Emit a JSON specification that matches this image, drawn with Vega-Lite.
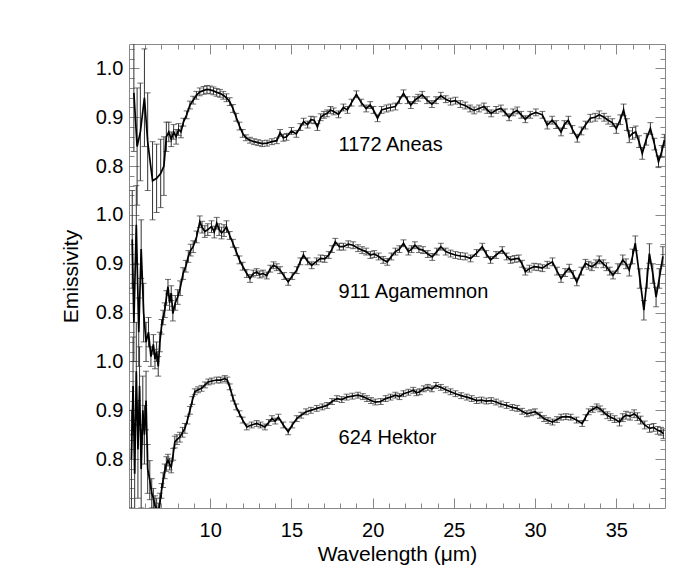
{
  "$schema": "https://vega.github.io/schema/vega-lite/v6.json",
  "autosize": "none",
  "width": 536,
  "height": 464,
  "padding": {"left": 129, "top": 44, "right": 29, "bottom": 72},
  "background": "white",
  "config": {
    "view": {"stroke": "#888", "strokeWidth": 1},
    "font": "Liberation Sans",
    "axis": {"grid": false, "domain": false, "tickColor": "#888", "labelColor": "black", "titleColor": "black", "labelFont": "Liberation Sans", "titleFont": "Liberation Sans", "labelFontSize": 20, "titleFontSize": 21, "titleFontWeight": "normal"}
  },
  "datasets": {
    "spec": [
      {"object":"1172 Aneas","wl":5.3,"e":0.95,"err":0.12},
      {"object":"1172 Aneas","wl":5.5,"e":0.84,"err":0.12},
      {"object":"1172 Aneas","wl":5.7,"e":0.87,"err":0.1},
      {"object":"1172 Aneas","wl":5.95,"e":0.94,"err":0.1},
      {"object":"1172 Aneas","wl":6.15,"e":0.85,"err":0.1},
      {"object":"1172 Aneas","wl":6.45,"e":0.77,"err":0.08},
      {"object":"1172 Aneas","wl":6.7,"e":0.775,"err":0.07},
      {"object":"1172 Aneas","wl":6.95,"e":0.785,"err":0.07},
      {"object":"1172 Aneas","wl":7.15,"e":0.8,"err":0.06},
      {"object":"1172 Aneas","wl":7.3,"e":0.86,"err":0.03},
      {"object":"1172 Aneas","wl":7.45,"e":0.87,"err":0.02},
      {"object":"1172 Aneas","wl":7.6,"e":0.855,"err":0.015},
      {"object":"1172 Aneas","wl":7.75,"e":0.87,"err":0.015},
      {"object":"1172 Aneas","wl":7.9,"e":0.86,"err":0.015},
      {"object":"1172 Aneas","wl":8.05,"e":0.875,"err":0.012},
      {"object":"1172 Aneas","wl":8.2,"e":0.87,"err":0.012},
      {"object":"1172 Aneas","wl":8.35,"e":0.89,"err":0.008},
      {"object":"1172 Aneas","wl":8.55,"e":0.905,"err":0.008},
      {"object":"1172 Aneas","wl":8.75,"e":0.925,"err":0.008},
      {"object":"1172 Aneas","wl":8.95,"e":0.935,"err":0.008},
      {"object":"1172 Aneas","wl":9.15,"e":0.945,"err":0.008},
      {"object":"1172 Aneas","wl":9.36,"e":0.952,"err":0.008},
      {"object":"1172 Aneas","wl":9.6,"e":0.955,"err":0.008},
      {"object":"1172 Aneas","wl":9.8,"e":0.957,"err":0.008},
      {"object":"1172 Aneas","wl":10.0,"e":0.956,"err":0.008},
      {"object":"1172 Aneas","wl":10.2,"e":0.954,"err":0.008},
      {"object":"1172 Aneas","wl":10.4,"e":0.951,"err":0.008},
      {"object":"1172 Aneas","wl":10.6,"e":0.949,"err":0.008},
      {"object":"1172 Aneas","wl":10.8,"e":0.945,"err":0.008},
      {"object":"1172 Aneas","wl":11.0,"e":0.94,"err":0.008},
      {"object":"1172 Aneas","wl":11.2,"e":0.932,"err":0.008},
      {"object":"1172 Aneas","wl":11.4,"e":0.918,"err":0.008},
      {"object":"1172 Aneas","wl":11.6,"e":0.9,"err":0.008},
      {"object":"1172 Aneas","wl":11.8,"e":0.882,"err":0.008},
      {"object":"1172 Aneas","wl":12.0,"e":0.867,"err":0.008},
      {"object":"1172 Aneas","wl":12.2,"e":0.858,"err":0.006},
      {"object":"1172 Aneas","wl":12.45,"e":0.853,"err":0.006},
      {"object":"1172 Aneas","wl":12.7,"e":0.85,"err":0.006},
      {"object":"1172 Aneas","wl":12.95,"e":0.848,"err":0.006},
      {"object":"1172 Aneas","wl":13.2,"e":0.846,"err":0.006},
      {"object":"1172 Aneas","wl":13.5,"e":0.847,"err":0.006},
      {"object":"1172 Aneas","wl":13.8,"e":0.85,"err":0.006},
      {"object":"1172 Aneas","wl":14.1,"e":0.852,"err":0.006},
      {"object":"1172 Aneas","wl":14.3,"e":0.868,"err":0.007},
      {"object":"1172 Aneas","wl":14.5,"e":0.858,"err":0.007},
      {"object":"1172 Aneas","wl":14.7,"e":0.86,"err":0.007},
      {"object":"1172 Aneas","wl":15.0,"e":0.872,"err":0.007},
      {"object":"1172 Aneas","wl":15.3,"e":0.866,"err":0.007},
      {"object":"1172 Aneas","wl":15.55,"e":0.88,"err":0.007},
      {"object":"1172 Aneas","wl":15.75,"e":0.891,"err":0.007},
      {"object":"1172 Aneas","wl":16.0,"e":0.885,"err":0.007},
      {"object":"1172 Aneas","wl":16.2,"e":0.895,"err":0.007},
      {"object":"1172 Aneas","wl":16.4,"e":0.894,"err":0.007},
      {"object":"1172 Aneas","wl":16.6,"e":0.88,"err":0.007},
      {"object":"1172 Aneas","wl":16.8,"e":0.9,"err":0.007},
      {"object":"1172 Aneas","wl":17.0,"e":0.905,"err":0.007},
      {"object":"1172 Aneas","wl":17.2,"e":0.908,"err":0.007},
      {"object":"1172 Aneas","wl":17.4,"e":0.915,"err":0.007},
      {"object":"1172 Aneas","wl":17.6,"e":0.912,"err":0.007},
      {"object":"1172 Aneas","wl":17.9,"e":0.906,"err":0.007},
      {"object":"1172 Aneas","wl":18.2,"e":0.92,"err":0.007},
      {"object":"1172 Aneas","wl":18.45,"e":0.915,"err":0.007},
      {"object":"1172 Aneas","wl":18.7,"e":0.93,"err":0.007},
      {"object":"1172 Aneas","wl":19.0,"e":0.947,"err":0.007},
      {"object":"1172 Aneas","wl":19.3,"e":0.93,"err":0.007},
      {"object":"1172 Aneas","wl":19.6,"e":0.918,"err":0.007},
      {"object":"1172 Aneas","wl":19.85,"e":0.925,"err":0.007},
      {"object":"1172 Aneas","wl":20.05,"e":0.915,"err":0.007},
      {"object":"1172 Aneas","wl":20.3,"e":0.898,"err":0.007},
      {"object":"1172 Aneas","wl":20.55,"e":0.915,"err":0.007},
      {"object":"1172 Aneas","wl":20.85,"e":0.918,"err":0.007},
      {"object":"1172 Aneas","wl":21.1,"e":0.92,"err":0.007},
      {"object":"1172 Aneas","wl":21.4,"e":0.922,"err":0.007},
      {"object":"1172 Aneas","wl":21.65,"e":0.935,"err":0.007},
      {"object":"1172 Aneas","wl":21.9,"e":0.949,"err":0.007},
      {"object":"1172 Aneas","wl":22.15,"e":0.935,"err":0.007},
      {"object":"1172 Aneas","wl":22.35,"e":0.925,"err":0.007},
      {"object":"1172 Aneas","wl":22.6,"e":0.935,"err":0.007},
      {"object":"1172 Aneas","wl":22.8,"e":0.94,"err":0.007},
      {"object":"1172 Aneas","wl":23.05,"e":0.946,"err":0.007},
      {"object":"1172 Aneas","wl":23.35,"e":0.935,"err":0.007},
      {"object":"1172 Aneas","wl":23.65,"e":0.927,"err":0.007},
      {"object":"1172 Aneas","wl":23.9,"e":0.935,"err":0.007},
      {"object":"1172 Aneas","wl":24.2,"e":0.944,"err":0.007},
      {"object":"1172 Aneas","wl":24.5,"e":0.937,"err":0.007},
      {"object":"1172 Aneas","wl":24.8,"e":0.932,"err":0.007},
      {"object":"1172 Aneas","wl":25.1,"e":0.934,"err":0.007},
      {"object":"1172 Aneas","wl":25.4,"e":0.927,"err":0.007},
      {"object":"1172 Aneas","wl":25.7,"e":0.924,"err":0.007},
      {"object":"1172 Aneas","wl":26.0,"e":0.918,"err":0.007},
      {"object":"1172 Aneas","wl":26.25,"e":0.914,"err":0.007},
      {"object":"1172 Aneas","wl":26.55,"e":0.918,"err":0.007},
      {"object":"1172 Aneas","wl":26.85,"e":0.922,"err":0.007},
      {"object":"1172 Aneas","wl":27.05,"e":0.915,"err":0.007},
      {"object":"1172 Aneas","wl":27.3,"e":0.908,"err":0.007},
      {"object":"1172 Aneas","wl":27.6,"e":0.915,"err":0.007},
      {"object":"1172 Aneas","wl":27.9,"e":0.918,"err":0.007},
      {"object":"1172 Aneas","wl":28.15,"e":0.91,"err":0.007},
      {"object":"1172 Aneas","wl":28.4,"e":0.9,"err":0.007},
      {"object":"1172 Aneas","wl":28.65,"e":0.91,"err":0.007},
      {"object":"1172 Aneas","wl":28.9,"e":0.914,"err":0.007},
      {"object":"1172 Aneas","wl":29.15,"e":0.905,"err":0.007},
      {"object":"1172 Aneas","wl":29.4,"e":0.896,"err":0.007},
      {"object":"1172 Aneas","wl":29.7,"e":0.905,"err":0.007},
      {"object":"1172 Aneas","wl":30.05,"e":0.91,"err":0.007},
      {"object":"1172 Aneas","wl":30.45,"e":0.905,"err":0.007},
      {"object":"1172 Aneas","wl":30.75,"e":0.884,"err":0.008},
      {"object":"1172 Aneas","wl":31.05,"e":0.894,"err":0.008},
      {"object":"1172 Aneas","wl":31.3,"e":0.885,"err":0.008},
      {"object":"1172 Aneas","wl":31.6,"e":0.87,"err":0.008},
      {"object":"1172 Aneas","wl":31.8,"e":0.885,"err":0.008},
      {"object":"1172 Aneas","wl":32.05,"e":0.894,"err":0.008},
      {"object":"1172 Aneas","wl":32.3,"e":0.875,"err":0.008},
      {"object":"1172 Aneas","wl":32.6,"e":0.857,"err":0.008},
      {"object":"1172 Aneas","wl":32.85,"e":0.872,"err":0.008},
      {"object":"1172 Aneas","wl":33.1,"e":0.884,"err":0.008},
      {"object":"1172 Aneas","wl":33.4,"e":0.898,"err":0.008},
      {"object":"1172 Aneas","wl":33.7,"e":0.9,"err":0.008},
      {"object":"1172 Aneas","wl":33.95,"e":0.905,"err":0.008},
      {"object":"1172 Aneas","wl":34.25,"e":0.9,"err":0.008},
      {"object":"1172 Aneas","wl":34.5,"e":0.894,"err":0.008},
      {"object":"1172 Aneas","wl":34.75,"e":0.889,"err":0.008},
      {"object":"1172 Aneas","wl":35.0,"e":0.877,"err":0.01},
      {"object":"1172 Aneas","wl":35.25,"e":0.895,"err":0.01},
      {"object":"1172 Aneas","wl":35.45,"e":0.915,"err":0.012},
      {"object":"1172 Aneas","wl":35.65,"e":0.885,"err":0.012},
      {"object":"1172 Aneas","wl":35.8,"e":0.86,"err":0.012},
      {"object":"1172 Aneas","wl":36.0,"e":0.867,"err":0.012},
      {"object":"1172 Aneas","wl":36.2,"e":0.87,"err":0.012},
      {"object":"1172 Aneas","wl":36.4,"e":0.85,"err":0.012},
      {"object":"1172 Aneas","wl":36.6,"e":0.826,"err":0.012},
      {"object":"1172 Aneas","wl":36.85,"e":0.855,"err":0.012},
      {"object":"1172 Aneas","wl":37.1,"e":0.877,"err":0.012},
      {"object":"1172 Aneas","wl":37.35,"e":0.845,"err":0.012},
      {"object":"1172 Aneas","wl":37.6,"e":0.809,"err":0.012},
      {"object":"1172 Aneas","wl":37.8,"e":0.83,"err":0.012},
      {"object":"1172 Aneas","wl":37.96,"e":0.853,"err":0.012},

      {"object":"911 Agamemnon","wl":5.2,"e":0.95,"err":0.1},
      {"object":"911 Agamemnon","wl":5.3,"e":0.78,"err":0.08},
      {"object":"911 Agamemnon","wl":5.45,"e":0.98,"err":0.08},
      {"object":"911 Agamemnon","wl":5.6,"e":0.76,"err":0.07},
      {"object":"911 Agamemnon","wl":5.75,"e":0.93,"err":0.06},
      {"object":"911 Agamemnon","wl":5.9,"e":0.8,"err":0.06},
      {"object":"911 Agamemnon","wl":6.05,"e":0.74,"err":0.04},
      {"object":"911 Agamemnon","wl":6.2,"e":0.76,"err":0.03},
      {"object":"911 Agamemnon","wl":6.35,"e":0.71,"err":0.02},
      {"object":"911 Agamemnon","wl":6.5,"e":0.735,"err":0.02},
      {"object":"911 Agamemnon","wl":6.6,"e":0.705,"err":0.02},
      {"object":"911 Agamemnon","wl":6.7,"e":0.72,"err":0.02},
      {"object":"911 Agamemnon","wl":6.8,"e":0.69,"err":0.02},
      {"object":"911 Agamemnon","wl":6.9,"e":0.74,"err":0.02},
      {"object":"911 Agamemnon","wl":7.0,"e":0.771,"err":0.015},
      {"object":"911 Agamemnon","wl":7.1,"e":0.79,"err":0.015},
      {"object":"911 Agamemnon","wl":7.2,"e":0.805,"err":0.015},
      {"object":"911 Agamemnon","wl":7.3,"e":0.83,"err":0.015},
      {"object":"911 Agamemnon","wl":7.4,"e":0.853,"err":0.015},
      {"object":"911 Agamemnon","wl":7.5,"e":0.82,"err":0.015},
      {"object":"911 Agamemnon","wl":7.6,"e":0.84,"err":0.015},
      {"object":"911 Agamemnon","wl":7.7,"e":0.798,"err":0.015},
      {"object":"911 Agamemnon","wl":7.85,"e":0.82,"err":0.015},
      {"object":"911 Agamemnon","wl":8.0,"e":0.832,"err":0.015},
      {"object":"911 Agamemnon","wl":8.15,"e":0.85,"err":0.015},
      {"object":"911 Agamemnon","wl":8.33,"e":0.88,"err":0.012},
      {"object":"911 Agamemnon","wl":8.5,"e":0.895,"err":0.012},
      {"object":"911 Agamemnon","wl":8.65,"e":0.915,"err":0.012},
      {"object":"911 Agamemnon","wl":8.8,"e":0.928,"err":0.012},
      {"object":"911 Agamemnon","wl":8.95,"e":0.935,"err":0.012},
      {"object":"911 Agamemnon","wl":9.16,"e":0.955,"err":0.012},
      {"object":"911 Agamemnon","wl":9.36,"e":0.986,"err":0.012},
      {"object":"911 Agamemnon","wl":9.5,"e":0.975,"err":0.012},
      {"object":"911 Agamemnon","wl":9.67,"e":0.966,"err":0.012},
      {"object":"911 Agamemnon","wl":9.85,"e":0.97,"err":0.012},
      {"object":"911 Agamemnon","wl":10.08,"e":0.976,"err":0.012},
      {"object":"911 Agamemnon","wl":10.25,"e":0.965,"err":0.012},
      {"object":"911 Agamemnon","wl":10.4,"e":0.983,"err":0.012},
      {"object":"911 Agamemnon","wl":10.55,"e":0.97,"err":0.012},
      {"object":"911 Agamemnon","wl":10.7,"e":0.963,"err":0.012},
      {"object":"911 Agamemnon","wl":10.85,"e":0.968,"err":0.012},
      {"object":"911 Agamemnon","wl":11.0,"e":0.976,"err":0.012},
      {"object":"911 Agamemnon","wl":11.2,"e":0.958,"err":0.008},
      {"object":"911 Agamemnon","wl":11.4,"e":0.942,"err":0.008},
      {"object":"911 Agamemnon","wl":11.6,"e":0.925,"err":0.008},
      {"object":"911 Agamemnon","wl":11.8,"e":0.908,"err":0.008},
      {"object":"911 Agamemnon","wl":12.0,"e":0.895,"err":0.008},
      {"object":"911 Agamemnon","wl":12.25,"e":0.88,"err":0.008},
      {"object":"911 Agamemnon","wl":12.45,"e":0.87,"err":0.008},
      {"object":"911 Agamemnon","wl":12.65,"e":0.88,"err":0.007},
      {"object":"911 Agamemnon","wl":12.86,"e":0.883,"err":0.007},
      {"object":"911 Agamemnon","wl":13.05,"e":0.878,"err":0.007},
      {"object":"911 Agamemnon","wl":13.25,"e":0.88,"err":0.007},
      {"object":"911 Agamemnon","wl":13.48,"e":0.876,"err":0.007},
      {"object":"911 Agamemnon","wl":13.7,"e":0.89,"err":0.007},
      {"object":"911 Agamemnon","wl":13.9,"e":0.897,"err":0.007},
      {"object":"911 Agamemnon","wl":14.1,"e":0.893,"err":0.007},
      {"object":"911 Agamemnon","wl":14.3,"e":0.887,"err":0.007},
      {"object":"911 Agamemnon","wl":14.55,"e":0.875,"err":0.007},
      {"object":"911 Agamemnon","wl":14.8,"e":0.863,"err":0.007},
      {"object":"911 Agamemnon","wl":15.05,"e":0.875,"err":0.007},
      {"object":"911 Agamemnon","wl":15.33,"e":0.887,"err":0.007},
      {"object":"911 Agamemnon","wl":15.55,"e":0.905,"err":0.007},
      {"object":"911 Agamemnon","wl":15.74,"e":0.918,"err":0.007},
      {"object":"911 Agamemnon","wl":16.0,"e":0.905,"err":0.007},
      {"object":"911 Agamemnon","wl":16.25,"e":0.897,"err":0.007},
      {"object":"911 Agamemnon","wl":16.55,"e":0.905,"err":0.007},
      {"object":"911 Agamemnon","wl":16.8,"e":0.911,"err":0.007},
      {"object":"911 Agamemnon","wl":17.05,"e":0.91,"err":0.007},
      {"object":"911 Agamemnon","wl":17.3,"e":0.918,"err":0.007},
      {"object":"911 Agamemnon","wl":17.5,"e":0.93,"err":0.007},
      {"object":"911 Agamemnon","wl":17.7,"e":0.945,"err":0.007},
      {"object":"911 Agamemnon","wl":17.95,"e":0.935,"err":0.007},
      {"object":"911 Agamemnon","wl":18.2,"e":0.935,"err":0.007},
      {"object":"911 Agamemnon","wl":18.5,"e":0.94,"err":0.007},
      {"object":"911 Agamemnon","wl":18.8,"e":0.938,"err":0.007},
      {"object":"911 Agamemnon","wl":19.1,"e":0.932,"err":0.007},
      {"object":"911 Agamemnon","wl":19.35,"e":0.928,"err":0.007},
      {"object":"911 Agamemnon","wl":19.6,"e":0.925,"err":0.007},
      {"object":"911 Agamemnon","wl":19.86,"e":0.918,"err":0.007},
      {"object":"911 Agamemnon","wl":20.1,"e":0.92,"err":0.007},
      {"object":"911 Agamemnon","wl":20.37,"e":0.915,"err":0.007},
      {"object":"911 Agamemnon","wl":20.65,"e":0.908,"err":0.007},
      {"object":"911 Agamemnon","wl":20.9,"e":0.904,"err":0.007},
      {"object":"911 Agamemnon","wl":21.15,"e":0.915,"err":0.007},
      {"object":"911 Agamemnon","wl":21.4,"e":0.925,"err":0.007},
      {"object":"911 Agamemnon","wl":21.65,"e":0.93,"err":0.007},
      {"object":"911 Agamemnon","wl":21.9,"e":0.942,"err":0.007},
      {"object":"911 Agamemnon","wl":22.2,"e":0.925,"err":0.007},
      {"object":"911 Agamemnon","wl":22.4,"e":0.93,"err":0.007},
      {"object":"911 Agamemnon","wl":22.6,"e":0.938,"err":0.007},
      {"object":"911 Agamemnon","wl":22.85,"e":0.93,"err":0.007},
      {"object":"911 Agamemnon","wl":23.1,"e":0.928,"err":0.007},
      {"object":"911 Agamemnon","wl":23.4,"e":0.92,"err":0.007},
      {"object":"911 Agamemnon","wl":23.67,"e":0.914,"err":0.007},
      {"object":"911 Agamemnon","wl":23.95,"e":0.925,"err":0.007},
      {"object":"911 Agamemnon","wl":24.2,"e":0.935,"err":0.007},
      {"object":"911 Agamemnon","wl":24.5,"e":0.925,"err":0.007},
      {"object":"911 Agamemnon","wl":24.8,"e":0.921,"err":0.007},
      {"object":"911 Agamemnon","wl":25.1,"e":0.918,"err":0.007},
      {"object":"911 Agamemnon","wl":25.4,"e":0.916,"err":0.007},
      {"object":"911 Agamemnon","wl":25.7,"e":0.915,"err":0.007},
      {"object":"911 Agamemnon","wl":26.03,"e":0.911,"err":0.007},
      {"object":"911 Agamemnon","wl":26.4,"e":0.922,"err":0.007},
      {"object":"911 Agamemnon","wl":26.75,"e":0.935,"err":0.007},
      {"object":"911 Agamemnon","wl":27.0,"e":0.92,"err":0.007},
      {"object":"911 Agamemnon","wl":27.26,"e":0.908,"err":0.007},
      {"object":"911 Agamemnon","wl":27.6,"e":0.918,"err":0.007},
      {"object":"911 Agamemnon","wl":27.98,"e":0.928,"err":0.007},
      {"object":"911 Agamemnon","wl":28.25,"e":0.915,"err":0.007},
      {"object":"911 Agamemnon","wl":28.5,"e":0.908,"err":0.007},
      {"object":"911 Agamemnon","wl":28.75,"e":0.91,"err":0.007},
      {"object":"911 Agamemnon","wl":29.0,"e":0.911,"err":0.007},
      {"object":"911 Agamemnon","wl":29.2,"e":0.9,"err":0.007},
      {"object":"911 Agamemnon","wl":29.4,"e":0.884,"err":0.007},
      {"object":"911 Agamemnon","wl":29.65,"e":0.89,"err":0.007},
      {"object":"911 Agamemnon","wl":29.94,"e":0.894,"err":0.007},
      {"object":"911 Agamemnon","wl":30.2,"e":0.893,"err":0.007},
      {"object":"911 Agamemnon","wl":30.45,"e":0.891,"err":0.007},
      {"object":"911 Agamemnon","wl":30.75,"e":0.898,"err":0.007},
      {"object":"911 Agamemnon","wl":31.07,"e":0.904,"err":0.008},
      {"object":"911 Agamemnon","wl":31.35,"e":0.885,"err":0.008},
      {"object":"911 Agamemnon","wl":31.6,"e":0.87,"err":0.008},
      {"object":"911 Agamemnon","wl":31.85,"e":0.882,"err":0.008},
      {"object":"911 Agamemnon","wl":32.1,"e":0.891,"err":0.008},
      {"object":"911 Agamemnon","wl":32.35,"e":0.878,"err":0.008},
      {"object":"911 Agamemnon","wl":32.57,"e":0.863,"err":0.008},
      {"object":"911 Agamemnon","wl":32.85,"e":0.885,"err":0.008},
      {"object":"911 Agamemnon","wl":33.1,"e":0.901,"err":0.008},
      {"object":"911 Agamemnon","wl":33.3,"e":0.897,"err":0.008},
      {"object":"911 Agamemnon","wl":33.5,"e":0.894,"err":0.008},
      {"object":"911 Agamemnon","wl":33.75,"e":0.9,"err":0.008},
      {"object":"911 Agamemnon","wl":33.95,"e":0.908,"err":0.008},
      {"object":"911 Agamemnon","wl":34.2,"e":0.9,"err":0.008},
      {"object":"911 Agamemnon","wl":34.4,"e":0.894,"err":0.008},
      {"object":"911 Agamemnon","wl":34.6,"e":0.885,"err":0.008},
      {"object":"911 Agamemnon","wl":34.8,"e":0.877,"err":0.008},
      {"object":"911 Agamemnon","wl":35.1,"e":0.89,"err":0.01},
      {"object":"911 Agamemnon","wl":35.4,"e":0.908,"err":0.01},
      {"object":"911 Agamemnon","wl":35.6,"e":0.9,"err":0.01},
      {"object":"911 Agamemnon","wl":35.8,"e":0.887,"err":0.012},
      {"object":"911 Agamemnon","wl":36.0,"e":0.915,"err":0.015},
      {"object":"911 Agamemnon","wl":36.17,"e":0.942,"err":0.015},
      {"object":"911 Agamemnon","wl":36.45,"e":0.87,"err":0.02},
      {"object":"911 Agamemnon","wl":36.7,"e":0.805,"err":0.02},
      {"object":"911 Agamemnon","wl":36.9,"e":0.87,"err":0.02},
      {"object":"911 Agamemnon","wl":37.04,"e":0.921,"err":0.02},
      {"object":"911 Agamemnon","wl":37.25,"e":0.88,"err":0.02},
      {"object":"911 Agamemnon","wl":37.45,"e":0.832,"err":0.02},
      {"object":"911 Agamemnon","wl":37.65,"e":0.87,"err":0.02},
      {"object":"911 Agamemnon","wl":37.87,"e":0.915,"err":0.02},

      {"object":"624 Hektor","wl":5.15,"e":0.8,"err":0.1},
      {"object":"624 Hektor","wl":5.25,"e":0.95,"err":0.1},
      {"object":"624 Hektor","wl":5.35,"e":0.77,"err":0.1},
      {"object":"624 Hektor","wl":5.45,"e":0.98,"err":0.1},
      {"object":"624 Hektor","wl":5.55,"e":0.82,"err":0.1},
      {"object":"624 Hektor","wl":5.65,"e":0.95,"err":0.08},
      {"object":"624 Hektor","wl":5.75,"e":0.78,"err":0.08},
      {"object":"624 Hektor","wl":5.85,"e":0.9,"err":0.07},
      {"object":"624 Hektor","wl":5.95,"e":0.85,"err":0.06},
      {"object":"624 Hektor","wl":6.05,"e":0.92,"err":0.06},
      {"object":"624 Hektor","wl":6.15,"e":0.78,"err":0.05},
      {"object":"624 Hektor","wl":6.28,"e":0.757,"err":0.04},
      {"object":"624 Hektor","wl":6.4,"e":0.73,"err":0.03},
      {"object":"624 Hektor","wl":6.5,"e":0.72,"err":0.02},
      {"object":"624 Hektor","wl":6.6,"e":0.705,"err":0.02},
      {"object":"624 Hektor","wl":6.7,"e":0.7,"err":0.02},
      {"object":"624 Hektor","wl":6.8,"e":0.69,"err":0.02},
      {"object":"624 Hektor","wl":6.9,"e":0.71,"err":0.02},
      {"object":"624 Hektor","wl":7.0,"e":0.735,"err":0.015},
      {"object":"624 Hektor","wl":7.1,"e":0.757,"err":0.015},
      {"object":"624 Hektor","wl":7.2,"e":0.775,"err":0.015},
      {"object":"624 Hektor","wl":7.3,"e":0.79,"err":0.015},
      {"object":"624 Hektor","wl":7.4,"e":0.798,"err":0.012},
      {"object":"624 Hektor","wl":7.5,"e":0.79,"err":0.012},
      {"object":"624 Hektor","wl":7.6,"e":0.784,"err":0.012},
      {"object":"624 Hektor","wl":7.72,"e":0.81,"err":0.012},
      {"object":"624 Hektor","wl":7.82,"e":0.835,"err":0.012},
      {"object":"624 Hektor","wl":7.95,"e":0.84,"err":0.01},
      {"object":"624 Hektor","wl":8.13,"e":0.845,"err":0.01},
      {"object":"624 Hektor","wl":8.3,"e":0.855,"err":0.01},
      {"object":"624 Hektor","wl":8.44,"e":0.863,"err":0.01},
      {"object":"624 Hektor","wl":8.6,"e":0.88,"err":0.008},
      {"object":"624 Hektor","wl":8.75,"e":0.9,"err":0.008},
      {"object":"624 Hektor","wl":8.9,"e":0.92,"err":0.008},
      {"object":"624 Hektor","wl":9.05,"e":0.938,"err":0.006},
      {"object":"624 Hektor","wl":9.25,"e":0.942,"err":0.006},
      {"object":"624 Hektor","wl":9.47,"e":0.945,"err":0.006},
      {"object":"624 Hektor","wl":9.68,"e":0.952,"err":0.006},
      {"object":"624 Hektor","wl":9.88,"e":0.958,"err":0.006},
      {"object":"624 Hektor","wl":10.1,"e":0.96,"err":0.006},
      {"object":"624 Hektor","wl":10.4,"e":0.962,"err":0.006},
      {"object":"624 Hektor","wl":10.65,"e":0.962,"err":0.006},
      {"object":"624 Hektor","wl":10.9,"e":0.965,"err":0.006},
      {"object":"624 Hektor","wl":11.05,"e":0.962,"err":0.006},
      {"object":"624 Hektor","wl":11.2,"e":0.948,"err":0.006},
      {"object":"624 Hektor","wl":11.4,"e":0.925,"err":0.006},
      {"object":"624 Hektor","wl":11.6,"e":0.907,"err":0.006},
      {"object":"624 Hektor","wl":11.8,"e":0.893,"err":0.006},
      {"object":"624 Hektor","wl":12.0,"e":0.88,"err":0.006},
      {"object":"624 Hektor","wl":12.25,"e":0.866,"err":0.006},
      {"object":"624 Hektor","wl":12.55,"e":0.87,"err":0.006},
      {"object":"624 Hektor","wl":12.86,"e":0.873,"err":0.006},
      {"object":"624 Hektor","wl":13.1,"e":0.87,"err":0.006},
      {"object":"624 Hektor","wl":13.37,"e":0.866,"err":0.006},
      {"object":"624 Hektor","wl":13.6,"e":0.875,"err":0.006},
      {"object":"624 Hektor","wl":13.8,"e":0.883,"err":0.006},
      {"object":"624 Hektor","wl":14.0,"e":0.878,"err":0.006},
      {"object":"624 Hektor","wl":14.2,"e":0.886,"err":0.006},
      {"object":"624 Hektor","wl":14.5,"e":0.87,"err":0.006},
      {"object":"624 Hektor","wl":14.8,"e":0.856,"err":0.006},
      {"object":"624 Hektor","wl":15.05,"e":0.87,"err":0.006},
      {"object":"624 Hektor","wl":15.33,"e":0.883,"err":0.006},
      {"object":"624 Hektor","wl":15.6,"e":0.89,"err":0.006},
      {"object":"624 Hektor","wl":15.9,"e":0.897,"err":0.006},
      {"object":"624 Hektor","wl":16.2,"e":0.9,"err":0.006},
      {"object":"624 Hektor","wl":16.56,"e":0.904,"err":0.006},
      {"object":"624 Hektor","wl":16.9,"e":0.907,"err":0.006},
      {"object":"624 Hektor","wl":17.2,"e":0.91,"err":0.006},
      {"object":"624 Hektor","wl":17.5,"e":0.918,"err":0.006},
      {"object":"624 Hektor","wl":17.8,"e":0.924,"err":0.006},
      {"object":"624 Hektor","wl":18.1,"e":0.922,"err":0.006},
      {"object":"624 Hektor","wl":18.4,"e":0.927,"err":0.006},
      {"object":"624 Hektor","wl":18.75,"e":0.929,"err":0.006},
      {"object":"624 Hektor","wl":19.1,"e":0.931,"err":0.006},
      {"object":"624 Hektor","wl":19.4,"e":0.928,"err":0.006},
      {"object":"624 Hektor","wl":19.65,"e":0.924,"err":0.006},
      {"object":"624 Hektor","wl":19.9,"e":0.92,"err":0.006},
      {"object":"624 Hektor","wl":20.16,"e":0.917,"err":0.006},
      {"object":"624 Hektor","wl":20.5,"e":0.918,"err":0.006},
      {"object":"624 Hektor","wl":20.8,"e":0.924,"err":0.006},
      {"object":"624 Hektor","wl":21.1,"e":0.927,"err":0.006},
      {"object":"624 Hektor","wl":21.4,"e":0.931,"err":0.006},
      {"object":"624 Hektor","wl":21.65,"e":0.928,"err":0.006},
      {"object":"624 Hektor","wl":21.9,"e":0.934,"err":0.006},
      {"object":"624 Hektor","wl":22.2,"e":0.937,"err":0.006},
      {"object":"624 Hektor","wl":22.5,"e":0.941,"err":0.006},
      {"object":"624 Hektor","wl":22.7,"e":0.936,"err":0.006},
      {"object":"624 Hektor","wl":22.9,"e":0.938,"err":0.006},
      {"object":"624 Hektor","wl":23.15,"e":0.944,"err":0.006},
      {"object":"624 Hektor","wl":23.4,"e":0.947,"err":0.006},
      {"object":"624 Hektor","wl":23.65,"e":0.944,"err":0.006},
      {"object":"624 Hektor","wl":23.9,"e":0.951,"err":0.006},
      {"object":"624 Hektor","wl":24.2,"e":0.947,"err":0.006},
      {"object":"624 Hektor","wl":24.5,"e":0.942,"err":0.006},
      {"object":"624 Hektor","wl":24.8,"e":0.938,"err":0.006},
      {"object":"624 Hektor","wl":25.1,"e":0.934,"err":0.006},
      {"object":"624 Hektor","wl":25.45,"e":0.93,"err":0.006},
      {"object":"624 Hektor","wl":25.8,"e":0.927,"err":0.006},
      {"object":"624 Hektor","wl":26.1,"e":0.924,"err":0.006},
      {"object":"624 Hektor","wl":26.4,"e":0.92,"err":0.006},
      {"object":"624 Hektor","wl":26.7,"e":0.921,"err":0.006},
      {"object":"624 Hektor","wl":27.0,"e":0.919,"err":0.006},
      {"object":"624 Hektor","wl":27.3,"e":0.92,"err":0.006},
      {"object":"624 Hektor","wl":27.6,"e":0.917,"err":0.006},
      {"object":"624 Hektor","wl":27.9,"e":0.913,"err":0.006},
      {"object":"624 Hektor","wl":28.25,"e":0.91,"err":0.006},
      {"object":"624 Hektor","wl":28.6,"e":0.906,"err":0.006},
      {"object":"624 Hektor","wl":28.9,"e":0.904,"err":0.006},
      {"object":"624 Hektor","wl":29.2,"e":0.898,"err":0.006},
      {"object":"624 Hektor","wl":29.5,"e":0.893,"err":0.006},
      {"object":"624 Hektor","wl":29.75,"e":0.895,"err":0.006},
      {"object":"624 Hektor","wl":30.0,"e":0.897,"err":0.006},
      {"object":"624 Hektor","wl":30.3,"e":0.89,"err":0.006},
      {"object":"624 Hektor","wl":30.55,"e":0.883,"err":0.006},
      {"object":"624 Hektor","wl":30.8,"e":0.879,"err":0.006},
      {"object":"624 Hektor","wl":31.07,"e":0.876,"err":0.006},
      {"object":"624 Hektor","wl":31.35,"e":0.881,"err":0.006},
      {"object":"624 Hektor","wl":31.6,"e":0.886,"err":0.006},
      {"object":"624 Hektor","wl":31.9,"e":0.887,"err":0.006},
      {"object":"624 Hektor","wl":32.2,"e":0.886,"err":0.006},
      {"object":"624 Hektor","wl":32.55,"e":0.88,"err":0.006},
      {"object":"624 Hektor","wl":32.9,"e":0.873,"err":0.006},
      {"object":"624 Hektor","wl":33.1,"e":0.885,"err":0.006},
      {"object":"624 Hektor","wl":33.3,"e":0.897,"err":0.006},
      {"object":"624 Hektor","wl":33.55,"e":0.902,"err":0.006},
      {"object":"624 Hektor","wl":33.8,"e":0.907,"err":0.006},
      {"object":"624 Hektor","wl":34.0,"e":0.903,"err":0.006},
      {"object":"624 Hektor","wl":34.2,"e":0.897,"err":0.006},
      {"object":"624 Hektor","wl":34.45,"e":0.89,"err":0.007},
      {"object":"624 Hektor","wl":34.65,"e":0.886,"err":0.007},
      {"object":"624 Hektor","wl":34.9,"e":0.882,"err":0.007},
      {"object":"624 Hektor","wl":35.2,"e":0.876,"err":0.008},
      {"object":"624 Hektor","wl":35.4,"e":0.885,"err":0.008},
      {"object":"624 Hektor","wl":35.6,"e":0.89,"err":0.008},
      {"object":"624 Hektor","wl":35.85,"e":0.888,"err":0.008},
      {"object":"624 Hektor","wl":36.1,"e":0.893,"err":0.008},
      {"object":"624 Hektor","wl":36.3,"e":0.887,"err":0.008},
      {"object":"624 Hektor","wl":36.5,"e":0.88,"err":0.008},
      {"object":"624 Hektor","wl":36.75,"e":0.87,"err":0.008},
      {"object":"624 Hektor","wl":37.05,"e":0.863,"err":0.008},
      {"object":"624 Hektor","wl":37.3,"e":0.865,"err":0.008},
      {"object":"624 Hektor","wl":37.55,"e":0.859,"err":0.008},
      {"object":"624 Hektor","wl":37.75,"e":0.857,"err":0.008},
      {"object":"624 Hektor","wl":37.9,"e":0.852,"err":0.01}
    ],
    "labels": [
      {"object":"1172 Aneas","wl":17.9,"e":0.843},
      {"object":"911 Agamemnon","wl":17.9,"e":0.843},
      {"object":"624 Hektor","wl":17.9,"e":0.843}
    ]
  },
  "layer": [
    {
      "data": {"name": "spec"},
      "transform": [{"calculate": "datum.e + (datum.object === '1172 Aneas' ? 0.6 : datum.object === '911 Agamemnon' ? 0.3 : 0)", "as": "y"}],
      "mark": {"type": "errorbar", "ticks": {"size": 6, "color": "#333"}, "color": "#333", "thickness": 1, "clip": true},
      "encoding": {
        "x": {"field": "wl", "type": "quantitative", "scale": {"domain": [5, 38], "nice": false, "zero": false},
              "axis": {"orient": "bottom", "values": [10, 15, 20, 25, 30, 35], "tickSize": -10, "labelPadding": 22, "title": "Wavelength (μm)", "titlePadding": 3}},
        "y": {"field": "y", "type": "quantitative", "scale": {"domain": [0.7, 1.65], "nice": false, "zero": false},
              "axis": {"orient": "left", "values": [0.7, 0.8, 0.9, 1.0, 1.1, 1.2, 1.3, 1.4, 1.5, 1.6], "tickSize": -10, "labelPadding": 16,
                       "labelExpr": "datum.value < 0.75 ? '' : datum.value > 1.35 ? format(datum.value - 0.6, '.1f') : datum.value > 1.05 ? format(datum.value - 0.3, '.1f') : format(datum.value, '.1f')",
                       "title": "Emissivity", "titlePadding": 14}},
        "yError": {"field": "err"},
        "detail": {"field": "object"}
      }
    },
    {
      "data": {"name": "spec"},
      "transform": [{"calculate": "datum.e + (datum.object === '1172 Aneas' ? 0.6 : datum.object === '911 Agamemnon' ? 0.3 : 0)", "as": "y"}],
      "mark": {"type": "line", "color": "black", "strokeWidth": 1.7, "clip": true},
      "encoding": {
        "x": {"field": "wl", "type": "quantitative",
              "axis": {"orient": "bottom", "values": [6,7,8,9,11,12,13,14,16,17,18,19,21,22,23,24,26,27,28,29,31,32,33,34,36,37], "tickSize": -5, "labels": false, "title": null}},
        "y": {"field": "y", "type": "quantitative",
              "axis": {"orient": "left", "values": [0.72,0.74,0.76,0.78,0.82,0.84,0.86,0.88,0.92,0.94,0.96,0.98,1.02,1.04,1.06,1.08,1.12,1.14,1.16,1.18,1.22,1.24,1.26,1.28,1.32,1.34,1.36,1.38,1.42,1.44,1.46,1.48,1.52,1.54,1.56,1.58,1.62,1.64], "tickSize": -5, "labels": false, "title": null}},
        "detail": {"field": "object"}
      }
    },
    {
      "data": {"name": "labels"},
      "transform": [{"calculate": "datum.e + (datum.object === '1172 Aneas' ? 0.6 : datum.object === '911 Agamemnon' ? 0.3 : 0)", "as": "y"}],
      "mark": {"type": "text", "align": "left", "baseline": "middle", "fontSize": 20, "font": "Liberation Sans", "color": "black"},
      "encoding": {
        "x": {"field": "wl", "type": "quantitative",
              "axis": {"orient": "top", "values": [10, 15, 20, 25, 30, 35], "tickSize": -10, "labels": false, "title": null}},
        "y": {"field": "y", "type": "quantitative",
              "axis": {"orient": "right", "values": [0.7, 0.8, 0.9, 1.0, 1.1, 1.2, 1.3, 1.4, 1.5, 1.6], "tickSize": -10, "labels": false, "title": null}},
        "text": {"field": "object"}
      }
    },
    {
      "data": {"name": "labels"},
      "transform": [{"calculate": "datum.e + (datum.object === '1172 Aneas' ? 0.6 : datum.object === '911 Agamemnon' ? 0.3 : 0)", "as": "y"}],
      "mark": {"type": "point", "opacity": 0},
      "encoding": {
        "x": {"field": "wl", "type": "quantitative",
              "axis": {"orient": "top", "values": [6,7,8,9,11,12,13,14,16,17,18,19,21,22,23,24,26,27,28,29,31,32,33,34,36,37], "tickSize": -5, "labels": false, "title": null}},
        "y": {"field": "y", "type": "quantitative",
              "axis": {"orient": "right", "values": [0.72,0.74,0.76,0.78,0.82,0.84,0.86,0.88,0.92,0.94,0.96,0.98,1.02,1.04,1.06,1.08,1.12,1.14,1.16,1.18,1.22,1.24,1.26,1.28,1.32,1.34,1.36,1.38,1.42,1.44,1.46,1.48,1.52,1.54,1.56,1.58,1.62,1.64], "tickSize": -5, "labels": false, "title": null}}
      }
    }
  ],
  "resolve": {"axis": {"x": "independent", "y": "independent"}}
}
